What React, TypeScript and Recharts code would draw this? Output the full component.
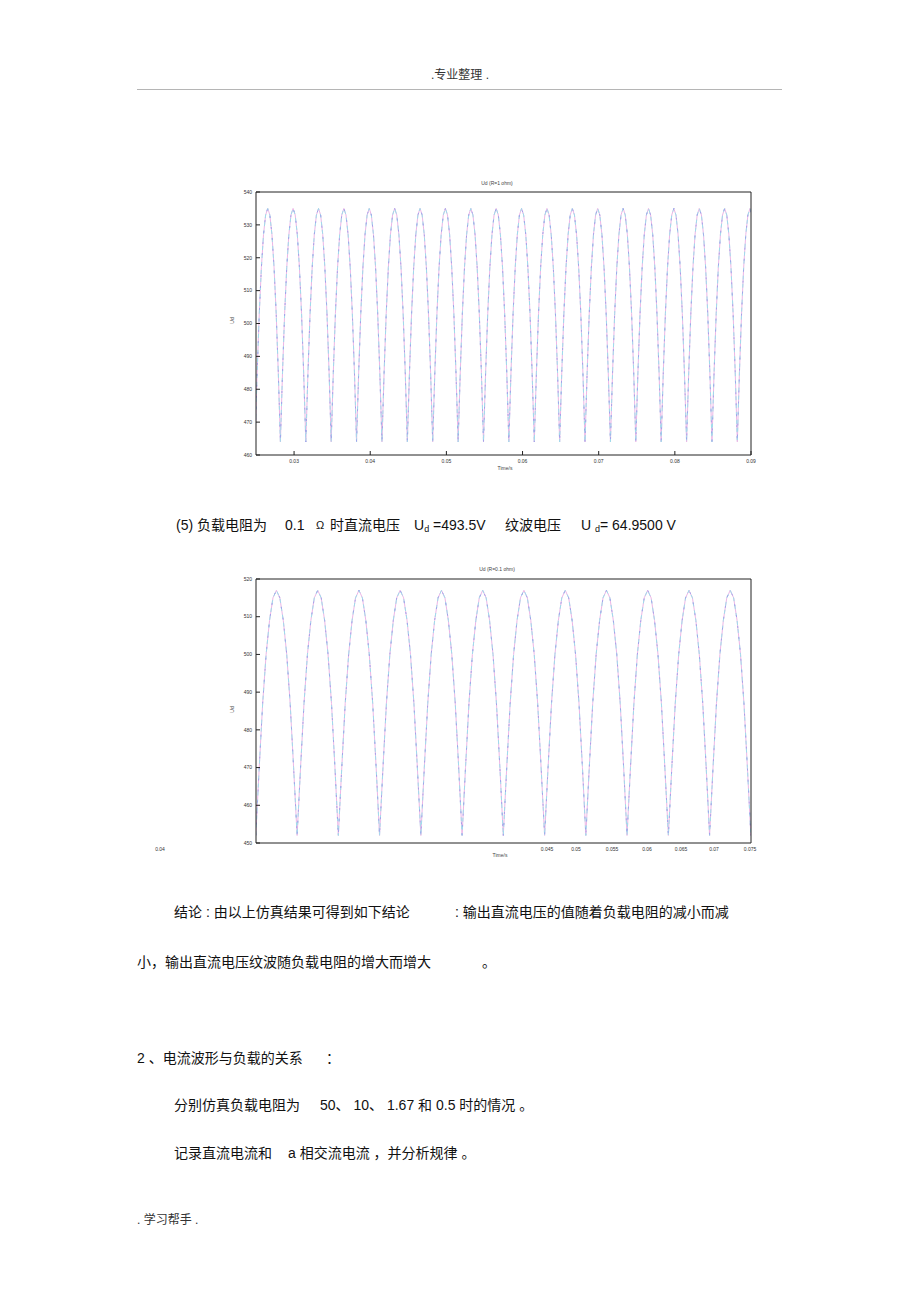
import { LineChart, Line, XAxis, YAxis } from "recharts";

// ── Chart 1: Ud (R=1 ohm) ──
const peakTimes1 = [
  0.02654, 0.02987, 0.03321, 0.03654, 0.03987, 0.04321, 0.04654, 0.04987, 0.05321, 0.05654,
  0.05987, 0.06321, 0.06654, 0.06987, 0.07321, 0.07654, 0.07987, 0.08321, 0.08654, 0.08987,
];
// one ripple cap: trough, rising side, peak, falling side
const capVolts1 = [464, 485, 503, 517, 527, 533, 535, 533, 527, 517, 503, 485];
const xTicks1 = [0.03, 0.04, 0.05, 0.06, 0.07, 0.08, 0.09];
const yTicks1 = [460, 470, 480, 490, 500, 510, 520, 530, 540];

// ── Chart 2: Ud (R=0.1 ohm) ──
const peakTimes2 = [
  0.03665, 0.03999, 0.04332, 0.04665, 0.04999, 0.05332, 0.05665, 0.05999, 0.06332, 0.06665,
  0.06999, 0.07332,
];
const capVolts2 = [452, 470, 487, 500, 509, 515, 517, 515, 509, 500, 487, 470];
const xTicks2 = [0.04, 0.045, 0.05, 0.055, 0.06, 0.065, 0.07, 0.075];
const xTickLabels2 = ["0.045", "0.05", "0.055", "0.06", "0.065", "0.07", "0.075"];
const xTickLabelPos2 = [547, 576, 612, 647, 681, 714, 750];
const yTicks2 = [450, 460, 470, 480, 490, 500, 510, 520];

// time offsets (ms) of the samples inside one ripple cap, relative to its peak
const capOffsetsMs = [
  -1.667, -1.389, -1.111, -0.833, -0.556, -0.278, 0, 0.278, 0.556, 0.833, 1.111, 1.389,
];

type Pt = { t: number; v: number };

function buildWave(peaks: number[], volts: number[]): Pt[] {
  const pts = peaks.flatMap((tp) =>
    capOffsetsMs.map((o, i) => ({ t: tp + o / 1000, v: volts[i] })),
  );
  pts.push({ t: peaks[peaks.length - 1] + 0.001667, v: volts[0] });
  return pts;
}

const wave1 = buildWave(peakTimes1, capVolts1);
const wave2 = buildWave(peakTimes2, capVolts2);

const AXIS = "#222";
const tickFont = { fontSize: 5, fill: "#333", fontFamily: "Liberation Sans" };

type ChartProps = {
  data: Pt[];
  top: number;
  marginTop: number;
  marginBottom: number;
  xDomain: [number, number];
  xTicks: number[];
  yDomain: [number, number];
  yTicks: number[];
  showXLabels: boolean;
};

function WaveChart(p: ChartProps) {
  return (
    <div style={{ position: "absolute", left: 0, top: p.top }}>
      <LineChart
        width={920}
        height={310}
        data={p.data}
        margin={{ top: p.marginTop, right: 168, bottom: p.marginBottom, left: 216 }}
      >
        <XAxis
          xAxisId="b"
          dataKey="t"
          type="number"
          domain={p.xDomain}
          ticks={p.xTicks}
          allowDataOverflow
          height={20}
          tickSize={-4}
          tickMargin={8}
          tick={p.showXLabels ? tickFont : false}
          tickFormatter={(v: number) => String(v)}
          stroke={AXIS}
        />
        <XAxis
          xAxisId="t"
          orientation="top"
          type="number"
          domain={p.xDomain}
          ticks={p.xTicks}
          allowDataOverflow
          height={1}
          tickSize={-4}
          tick={false}
          stroke={AXIS}
        />
        <YAxis
          yAxisId="l"
          type="number"
          domain={p.yDomain}
          ticks={p.yTicks}
          allowDataOverflow
          width={40}
          tickSize={-4}
          tickMargin={8}
          tick={tickFont}
          stroke={AXIS}
        />
        <YAxis
          yAxisId="r"
          orientation="right"
          type="number"
          domain={p.yDomain}
          ticks={p.yTicks}
          allowDataOverflow
          width={1}
          tickSize={-4}
          tick={false}
          stroke={AXIS}
        />
        <Line
          xAxisId="b"
          yAxisId="l"
          dataKey="v"
          type="linear"
          stroke="#ecb6e6"
          strokeWidth={1}
          dot={false}
          isAnimationActive={false}
        />
        <Line
          xAxisId="b"
          yAxisId="l"
          dataKey="v"
          type="linear"
          stroke="#9fdcec"
          strokeWidth={1}
          strokeDasharray="4 4"
          dot={false}
          isAnimationActive={false}
        />
        <Line
          xAxisId="b"
          yAxisId="l"
          dataKey="v"
          type="linear"
          stroke="#a2a3ea"
          strokeWidth={1}
          strokeDasharray="2 9"
          dot={false}
          isAnimationActive={false}
        />
      </LineChart>
    </div>
  );
}

type TxtProps = {
  x: number;
  y: number;
  size?: number;
  center?: boolean;
  color?: string;
  children: React.ReactNode;
};

function Txt({ x, y, size = 14, center, color = "#111", children }: TxtProps) {
  return (
    <div
      style={{
        position: "absolute",
        left: x,
        top: y - size / 2,
        fontSize: size,
        lineHeight: `${size}px`,
        color,
        whiteSpace: "pre",
        transform: center ? "translateX(-50%)" : undefined,
      }}
    >
      {children}
    </div>
  );
}

const sub = { fontSize: 9, verticalAlign: "-2px" } as const;

export default function App() {
  return (
    <div
      style={{
        position: "relative",
        width: 920,
        height: 1303,
        background: "#fff",
        overflow: "hidden",
        fontFamily: '"Liberation Sans", "Noto Sans CJK SC", sans-serif',
      }}
    >
      <style>{"body{margin:0}"}</style>

      {/* ── page header ── */}
      <Txt x={460} y={75} size={12} center color="#333">.专业整理 .</Txt>
      <div
        style={{
          position: "absolute",
          left: 137,
          top: 89,
          width: 645,
          borderTop: "1px solid #b5b5b5",
        }}
      />

      {/* ── chart 1 ── */}
      <WaveChart
        data={wave1}
        top={170}
        marginTop={21}
        marginBottom={5}
        xDomain={[0.025, 0.09]}
        xTicks={xTicks1}
        yDomain={[460, 540]}
        yTicks={yTicks1}
        showXLabels
      />
      <Txt x={497} y={183} size={5} center color="#444">Ud (R=1 ohm)</Txt>
      <Txt x={505} y={468} size={5} center color="#444">Time/s</Txt>
      <div
        style={{
          position: "absolute",
          left: 229,
          top: 318,
          fontSize: 5,
          lineHeight: "5px",
          color: "#444",
          transform: "rotate(-90deg)",
        }}
      >
        Ud
      </div>

      {/* ── line (5) ── */}
      <Txt x={176} y={525}>(5) 负载电阻为</Txt>
      <Txt x={285} y={525}>0.1</Txt>
      <Txt x={316} y={525} size={11}>Ω</Txt>
      <Txt x={330} y={525}>时直流电压</Txt>
      <Txt x={414} y={525}>
        U<span style={sub}>d</span> =493.5V
      </Txt>
      <Txt x={505} y={525}>纹波电压</Txt>
      <Txt x={581} y={525}>
        U <span style={sub}>d</span>= 64.9500 V
      </Txt>

      {/* ── chart 2 ── */}
      <WaveChart
        data={wave2}
        top={555}
        marginTop={23}
        marginBottom={2}
        xDomain={[0.035, 0.075]}
        xTicks={xTicks2}
        yDomain={[450, 520]}
        yTicks={yTicks2}
        showXLabels={false}
      />
      <Txt x={497} y={569} size={5} center color="#444">Ud (R=0.1 ohm)</Txt>
      <Txt x={160} y={849} size={5} center color="#333">0.04</Txt>
      <Txt x={500} y={855} size={5} center color="#444">Time/s</Txt>
      {xTickLabels2.map((l, i) => (
        <Txt key={l} x={xTickLabelPos2[i]} y={849} size={5} center color="#333">
          {l}
        </Txt>
      ))}
      <div
        style={{
          position: "absolute",
          left: 229,
          top: 707,
          fontSize: 5,
          lineHeight: "5px",
          color: "#444",
          transform: "rotate(-90deg)",
        }}
      >
        Ud
      </div>

      {/* ── conclusions ── */}
      <Txt x={174} y={912}>结论 : 由以上仿真结果可得到如下结论</Txt>
      <Txt x={455} y={912}>: 输出直流电压的值随着负载电阻的减小而减</Txt>
      <Txt x={137} y={962}>小，输出直流电压纹波随负载电阻的增大而增大</Txt>
      <Txt x={482} y={962}>。</Txt>

      <Txt x={137} y={1058}>2 、电流波形与负载的关系</Txt>
      <Txt x={326} y={1058}>：</Txt>
      <Txt x={174} y={1105}>分别仿真负载电阻为</Txt>
      <Txt x={320} y={1105}>50、 10、 1.67 和 0.5 时的情况 。</Txt>
      <Txt x={174} y={1153}>记录直流电流和</Txt>
      <Txt x={288} y={1153}>a 相交流电流 ，并分析规律 。</Txt>

      {/* ── page footer ── */}
      <Txt x={137} y={1220} size={12} color="#333">. 学习帮手 .</Txt>
    </div>
  );
}
